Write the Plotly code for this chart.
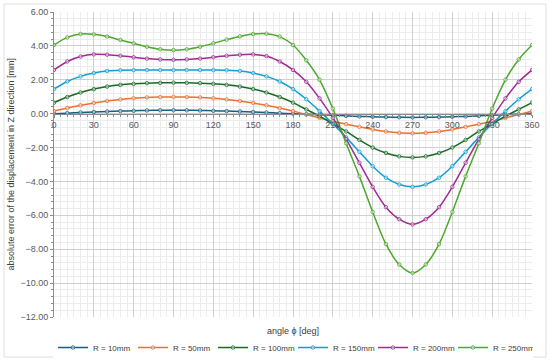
import plotly.graph_objects as go

angles = [0, 10, 20, 30, 40, 50, 60, 70, 80, 90, 100, 110, 120, 130, 140, 150, 160, 170, 180,
          190, 200, 210, 220, 230, 240, 250, 260, 270, 280, 290, 300, 310, 320, 330, 340, 350, 360]

r10 = [0.00, 0.03, 0.07, 0.10, 0.13, 0.15, 0.17, 0.19, 0.20, 0.20, 0.20, 0.19, 0.17, 0.15, 0.13, 0.10, 0.07, 0.03, 0.00,
       -0.03, -0.06, -0.10, -0.13, -0.16, -0.18, -0.20, -0.21, -0.22, -0.21, -0.20, -0.18, -0.16, -0.13, -0.10, -0.06, -0.03, 0.00]
r50 = [0.15, 0.33, 0.50, 0.63, 0.75, 0.84, 0.91, 0.96, 0.98, 0.99, 0.98, 0.96, 0.91, 0.84, 0.75, 0.63, 0.50, 0.33, 0.15,
       -0.05, -0.25, -0.45, -0.62, -0.78, -0.93, -1.05, -1.13, -1.16, -1.13, -1.05, -0.93, -0.78, -0.62, -0.45, -0.25, -0.05, 0.15]
r100 = [0.65, 0.98, 1.25, 1.45, 1.60, 1.70, 1.76, 1.80, 1.82, 1.83, 1.82, 1.80, 1.76, 1.70, 1.60, 1.45, 1.25, 0.98, 0.65,
        0.25, -0.15, -0.60, -1.05, -1.55, -2.00, -2.32, -2.52, -2.58, -2.52, -2.32, -2.00, -1.55, -1.05, -0.60, -0.15, 0.25, 0.65]
r150 = [1.45, 1.90, 2.20, 2.40, 2.52, 2.56, 2.57, 2.57, 2.57, 2.57, 2.57, 2.57, 2.57, 2.56, 2.52, 2.40, 2.20, 1.90, 1.45,
        0.85, 0.15, -0.60, -1.40, -2.25, -3.10, -3.78, -4.18, -4.32, -4.18, -3.78, -3.10, -2.25, -1.40, -0.60, 0.15, 0.85, 1.45]
r200 = [2.58, 3.08, 3.37, 3.50, 3.48, 3.42, 3.33, 3.25, 3.20, 3.18, 3.20, 3.25, 3.33, 3.42, 3.48, 3.50, 3.40, 3.08, 2.58,
        1.88, 0.90, -0.25, -1.50, -2.90, -4.32, -5.52, -6.23, -6.54, -6.23, -5.52, -4.32, -2.90, -1.50, -0.25, 0.90, 1.88, 2.58]
r250 = [4.05, 4.50, 4.70, 4.68, 4.55, 4.35, 4.15, 3.95, 3.80, 3.75, 3.80, 3.95, 4.15, 4.37, 4.56, 4.70, 4.72, 4.55, 4.05,
        3.15, 2.00, 0.30, -1.75, -3.70, -5.80, -7.70, -8.90, -9.40, -8.90, -7.70, -5.80, -3.70, -1.75, 0.30, 2.00, 3.20, 4.05]

series_names = ["R = 10mm", "R = 50mm", "R = 100mm", "R = 150mm", "R = 200mm", "R = 250mm"]
series_values = [r10, r50, r100, r150, r200, r250]
colors = ["#156082", "#E97132", "#196B24", "#0F9ED5", "#A02B93", "#4EA72E"]

x_ticks = [0, 30, 60, 90, 120, 150, 180, 210, 240, 270, 300, 330, 360]
y_ticks = [6, 4, 2, 0, -2, -4, -6, -8, -10, -12]

fig = go.Figure()
for name, vals, col in zip(series_names, series_values, colors):
    fig.add_trace(go.Scatter(
        x=angles, y=vals, name=name, mode="lines+markers",
        line=dict(color=col, width=1.5, shape="spline", smoothing=0.8),
        marker=dict(symbol="circle", size=3.5, color="rgba(255,255,255,0.5)",
                    line=dict(color=col, width=0.8)),
    ))

grid_major = "#d0d0d0"
grid_minor = "#ececec"
FONT = "Liberation Sans, Arial, sans-serif"
tick_font = dict(family=FONT, size=9, color="#595959")

fig.update_layout(
    width=550, height=362,
    margin=dict(l=54, r=18, t=12, b=45, autoexpand=False),
    paper_bgcolor="white", plot_bgcolor="white",
    showlegend=True,
    legend=dict(orientation="h", xref="paper", yref="container",
                x=0.5, xanchor="center", y=0.04, yanchor="middle",
                font=dict(family=FONT, size=8, color="#404040"),
                itemwidth=30, tracegroupgap=0,
                entrywidth=35, entrywidthmode="pixels"),
    xaxis=dict(
        range=[0, 360], tickmode="array", tickvals=x_ticks, ticktext=[str(t) for t in x_ticks],
        showgrid=True, gridcolor=grid_major, gridwidth=1,
        minor=dict(dtick=5, showgrid=True, gridcolor=grid_minor, ticks="outside", ticklen=2, tickcolor="#8c8c8c"),
        anchor="free", position=12 / 18,
        showline=True, linecolor="#8c8c8c", linewidth=1,
        ticks="outside", ticklen=3, tickcolor="#8c8c8c",
        tickfont=tick_font, zeroline=False,
    ),
    yaxis=dict(
        range=[-12, 6], tickmode="array", tickvals=y_ticks,
        ticktext=[("\u2212" if t < 0 else "") + f"{abs(t):.2f}" for t in y_ticks],
        showgrid=True, gridcolor=grid_major, gridwidth=1,
        minor=dict(dtick=0.4, showgrid=True, gridcolor=grid_minor, ticks="outside", ticklen=2, tickcolor="#8c8c8c"),
        showline=True, linecolor="#8c8c8c", linewidth=1,
        ticks="outside", ticklen=3, tickcolor="#8c8c8c",
        tickfont=tick_font, zeroline=False,
    ),
    annotations=[
        dict(text="angle \u03d5 [deg]", x=0.5, y=-0.046, xref="paper", yref="paper",
             showarrow=False, xanchor="center", yanchor="middle",
             font=dict(family=FONT, size=9, color="#404040")),
        dict(text="absolute error of the displacement in Z direction [mm]", x=-0.092, y=0.5,
             xref="paper", yref="paper", textangle=-90, showarrow=False,
             xanchor="center", yanchor="middle",
             font=dict(family=FONT, size=9, color="#404040")),
    ],
    shapes=[dict(type="rect", xref="paper", yref="paper",
                 x0=-50 / 478, x1=1 + 14 / 478, y0=-40 / 305, y1=1 + 8 / 305,
                 line=dict(color="#e0e0e0", width=1), fillcolor="rgba(0,0,0,0)", layer="below")],
)

fig.write_html("out.html", config={"displayModeBar": False},
               post_script="document.body.style.margin='0px';")
